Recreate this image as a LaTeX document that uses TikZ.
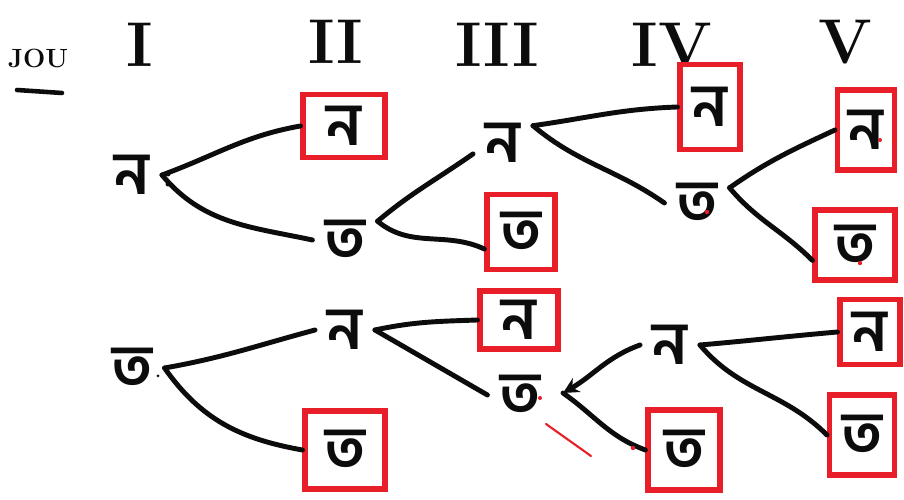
\documentclass[tikz,border=0pt]{standalone}
\usepackage{fontspec}
\usetikzlibrary{arrows.meta}
\newfontfamily\bengf[Script=Bengali]{Hind Siliguri}
\definecolor{penred}{RGB}{232,30,40}
\definecolor{ink}{RGB}{12,12,12}
\begin{document}
\begin{tikzpicture}[x=0.02cm,y=0.02cm,
  sym/.style={font=\bengf\bfseries\fontsize{34}{34}\selectfont, text=ink, inner sep=7pt},
  boxed/.style={sym, draw=penred, line width=2.9pt, inner sep=0pt},
  hdr/.style={font=\bfseries\fontsize{36}{36}\selectfont, text=ink},
  link/.style={draw=ink, line width=2.8pt, line cap=round},
  stray/.style={draw=penred, line width=1.2pt, line cap=round}]
\useasboundingbox (0,0) rectangle (904,500);
\fill[white] (0,0) rectangle (904,500);
% headers
\node[font=\bfseries\fontsize{15}{15}\selectfont, text=ink] (jou) at (38,442) {JOU};
\coordinate (ulA) at (17,410);
\coordinate (ulB) at (62,407);
\draw[link, line width=2.6pt] (ulA) -- (ulB);
\node[hdr] (h1) at (140,455) {I};
\node[hdr] (h2) at (336,458) {II};
\node[hdr] (h3) at (497,455) {III};
\node[hdr] (h4) at (672,455) {IV};
\node[hdr] (h5) at (845,458) {V};
% column I
\node[sym] (a1) at (132,325) {ন};
\node[sym] (a2) at (132,132) {ত};
% column II
\node[boxed, minimum width=1.64cm, minimum height=1.26cm] (b1) at (344,374) {ন};
\node[sym] (b2) at (345,260) {ত};
\node[sym] (b3) at (345,170) {ন};
\node[boxed, minimum width=1.6cm, minimum height=1.56cm] (b4) at (345,50) {ত};
% column III
\node[sym] (c1) at (503,357) {ন};
\node[boxed, minimum width=1.36cm, minimum height=1.5cm] (c2) at (521,268) {ত};
\node[boxed, minimum width=1.56cm, minimum height=1.16cm] (c3) at (519,180) {ন};
\node[sym] (c4) at (520,105) {ত};
% column IV
\node[boxed, minimum width=1.2cm, minimum height=1.7cm] (d1) at (710,393) {ন};
\node[sym] (d2) at (697,297) {ত};
\node[sym] (d3) at (670,155) {ন};
\node[boxed, minimum width=1.44cm, minimum height=1.6cm] (d4) at (684,50) {ত};
% column V
\node[boxed, minimum width=1.14cm, minimum height=1.6cm] (e1) at (866,370) {ন};
\node[boxed, minimum width=1.6cm, minimum height=1.4cm] (e2) at (855,255) {ত};
\node[boxed, minimum width=1.2cm, minimum height=1.3cm] (e3) at (870,168) {ন};
\node[boxed, minimum width=1.3cm, minimum height=1.6cm] (e4) at (862,65) {ত};
% connectors, top tree
\draw[link] (a1.east) to[out=20,in=190] (b1.west);
\draw[link] (a1.east) to[out=-50,in=168] (b2.west);
\draw[link] (b2.30) to[out=40,in=215] (c1.200);
\draw[link] (b2.30) to[out=-40,in=155] (c2.205);
\draw[link] (c1.30) to[out=8,in=182] (d1.west);
\draw[link] (c1.30) to[out=-40,in=145] (d2.west);
\draw[link] (d2.25) to[out=35,in=205] (e1.west);
\draw[link] (d2.25) to[out=-50,in=135] (e2.200);
% connectors, bottom tree
\draw[link] (a2.east) to[out=10,in=195] (b3.west);
\draw[link] (a2.east) to[out=-55,in=170] (b4.west);
\draw[link] (b3.east) to[out=12,in=182] (c3.west);
\draw[link] (b3.east) to[out=-30,in=150] (c4.west);
\coordinate (cv) at (563,107);
\draw[link, -{Stealth[length=9pt,width=9pt]}] (d3.west) to[out=200,in=30] (cv);
\draw[link] (cv) to[out=-35,in=160] (d4.west);
\draw[link] (d3.east) to[out=5,in=185] (e3.west);
\draw[link] (d3.east) to[out=-50,in=135] (e4.west);
% stray pen marks
\coordinate (rA) at (546,76);
\coordinate (rB) at (591,44);
\draw[stray] (rA) -- (rB);
\fill[penred] (633,52) circle (2.2);
\fill[penred] (707,288) circle (2.2);
\fill[penred] (860,237) circle (2.2);
\fill[penred] (540,102) circle (2);
\fill[penred] (880,360) circle (2);
\fill[ink] (168,326) circle (2.5);
\fill[ink] (168,316) circle (2.5);
\fill[ink] (158,124) circle (1.5);
\end{tikzpicture}
\end{document}
